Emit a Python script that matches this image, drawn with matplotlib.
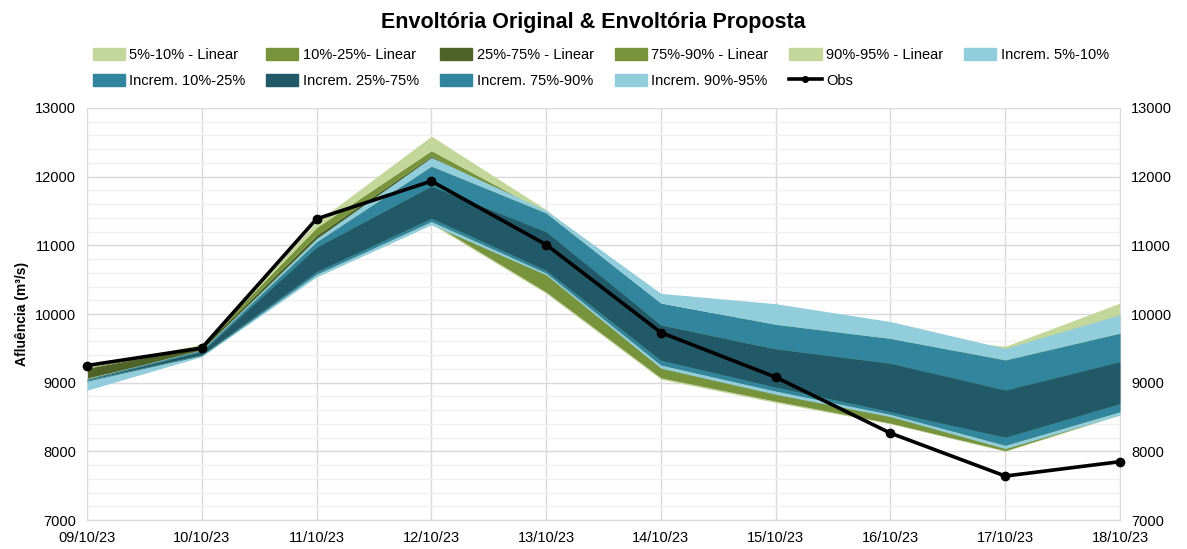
import numpy as np
import matplotlib
matplotlib.use("Agg")
import matplotlib.pyplot as plt
from matplotlib.patches import Patch
from matplotlib.lines import Line2D

plt.rcParams['font.family'] = ['Liberation Sans', 'DejaVu Sans']

dates = ['09/10/23', '10/10/23', '11/10/23', '12/10/23', '13/10/23',
         '14/10/23', '15/10/23', '16/10/23', '17/10/23', '18/10/23']
obs = [9250, 9505, 11385, 11935, 11010, 9730, 9080, 8265, 7640, 7850]

# envoltória original (linear) - percentis
lin_p05 = [9040, 9390, 10560, 11310, 10300, 9050, 8710, 8400, 8000, 8530]
lin_p10 = [9050, 9400, 10590, 11330, 10320, 9070, 8730, 8410, 8010, 8540]
lin_p25 = [9070, 9430, 10620, 11380, 10580, 9220, 8880, 8540, 8100, 8600]
lin_p75 = [9210, 9520, 11150, 12300, 11400, 9800, 9500, 9300, 9200, 9600]
lin_p90 = [9220, 9540, 11260, 12380, 11480, 10000, 9800, 9550, 9400, 9950]
lin_p95 = [9230, 9560, 11340, 12590, 11520, 10100, 9900, 9700, 9530, 10160]

# envoltória proposta (incremental) - percentis
inc_q05 = [8890, 9380, 10540, 11300, 10570, 9210, 8830, 8505, 8040, 8530]
inc_q10 = [9020, 9395, 10580, 11350, 10600, 9260, 8880, 8540, 8090, 8580]
inc_q25 = [9035, 9410, 10620, 11400, 10640, 9330, 8940, 8580, 8210, 8700]
inc_q75 = [9045, 9450, 10970, 11860, 11195, 9840, 9490, 9280, 8890, 9305]
inc_q90 = [9055, 9470, 11050, 12150, 11470, 10160, 9850, 9645, 9330, 9720]
inc_q95 = [9060, 9480, 11100, 12280, 11510, 10300, 10150, 9890, 9500, 9990]

LG, OL, DO = '#c4d79b', '#77933c', '#4f6228'
LB, TE, DT = '#92cddc', '#31859c', '#215968'

x = np.arange(len(dates))

fig = plt.figure(figsize=(11.87, 5.49), dpi=100)
ax = fig.add_axes([0.0733, 0.0528, 0.8703, 0.7505])

lin = [lin_p05, lin_p10, lin_p25, lin_p75, lin_p90, lin_p95]
inc = [inc_q05, inc_q10, inc_q25, inc_q75, inc_q90, inc_q95]
lin_names = ['5%-10% - Linear', '10%-25%- Linear', '25%-75% - Linear',
             '75%-90% - Linear', '90%-95% - Linear']
inc_names = ['Increm. 5%-10%', 'Increm. 10%-25%', 'Increm. 25%-75%',
             'Increm. 75%-90%', 'Increm. 90%-95%']
lin_cols = [LG, OL, DO, OL, LG]
inc_cols = [LB, TE, DT, TE, LB]

# faixas: linear atrás, incremental por cima
for i in range(5):
    ax.fill_between(x, lin[i], lin[i + 1], color=lin_cols[i], lw=0, zorder=2)
for i in range(5):
    ax.fill_between(x, inc[i], inc[i + 1], color=inc_cols[i], lw=0, zorder=3)

ax.plot(x, obs, color='black', lw=2.6, marker='o', ms=6, zorder=5, clip_on=False)

ax.set_xlim(0, len(dates) - 1)
ax.set_ylim(7000, 13000)
ax.set_xticks(x)
ax.set_xticklabels(dates)
ax.set_yticks(np.arange(7000, 13001, 1000))
ax.set_yticks(np.arange(7000, 13001, 200), minor=True)
ax.grid(True, which='major', color='#d9d9d9', lw=1.0, zorder=0)
ax.grid(True, which='minor', axis='y', color='#f0f0f0', lw=1.0, zorder=0)
ax.set_axisbelow(True)
ax.tick_params(which='both', length=0, labelsize=10.5, labelcolor='black',
               labelright=True)
ax.tick_params(axis='x', pad=8)
ax.tick_params(axis='y', pad=8)
for s in ax.spines.values():
    s.set_color('#d9d9d9')
ax.spines['top'].set_visible(False)

ax.set_ylabel('Afluência (m³/s)', fontsize=10, fontweight='bold', labelpad=4)

fig.suptitle('Envoltória Original & Envoltória Proposta', fontsize=15.5,
             fontweight='bold', y=0.978)

row1 = [Patch(color=c) for c in lin_cols] + [Patch(color=LB)]
row1_l = lin_names + [inc_names[0]]
row2 = [Patch(color=c) for c in inc_cols[1:]] + \
    [Line2D([], [], color='black', lw=2.6, marker='o', ms=4)]
row2_l = inc_names[1:] + ['Obs']
# ordem por colunas para o legend preencher linha a linha
handles, labels = [], []
for i in range(5):
    handles += [row1[i], row2[i]]
    labels += [row1_l[i], row2_l[i]]
handles.append(row1[5])
labels.append(row1_l[5])

fig.legend(handles, labels, ncol=6, loc='center', bbox_to_anchor=(0.506, 0.876),
           frameon=False, fontsize=10.5, handlelength=2.2, handleheight=0.9,
           handletextpad=0.3, columnspacing=1.45, labelspacing=0.8)

fig.savefig('out.png', dpi=100)
